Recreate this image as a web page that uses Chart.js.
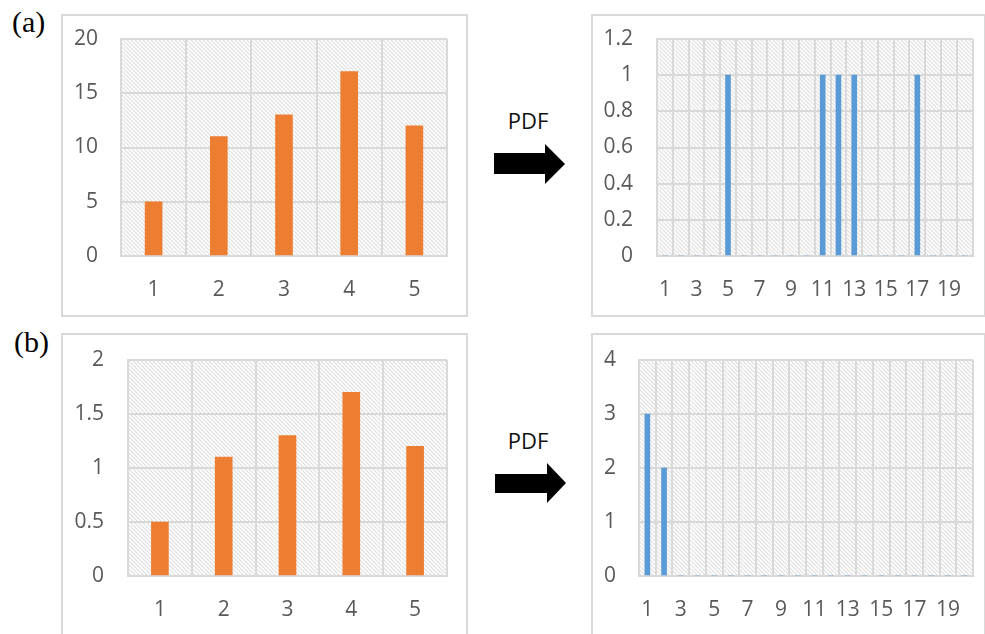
<!DOCTYPE html>
<html>
<head>
<meta charset="utf-8">
<script src="https://cdn.jsdelivr.net/npm/chart.js@4/dist/chart.umd.min.js"></script>
<style>
html,body{margin:0;padding:0;background:#fff;width:985px;height:634px;overflow:hidden;position:relative}
canvas{position:absolute}
svg{position:absolute;left:0;top:0}
</style>
</head>
<body>
<svg width="985" height="634">
<text x="12" y="32" font-family="Liberation Serif" font-size="30" fill="#000">(a)</text>
<text x="14" y="352" font-family="Liberation Serif" font-size="30" fill="#000">(b)</text>
<text x="528" y="129" text-anchor="middle" font-family="Open Sans" font-size="22" fill="#111">PDF</text>
<text x="528" y="449" text-anchor="middle" font-family="Open Sans" font-size="22" fill="#111">PDF</text>
<polygon points="494,153 545,153 545,144 565,164 545,184 545,174 494,174" fill="#000"/>
<polygon points="495,474 547,474 547,463 566,483 547,503 547,493 495,493" fill="#000"/>
</svg>
<canvas id="ca" width="407" height="303" style="left:61px;top:14px"></canvas>
<canvas id="cap" width="395" height="303" style="left:591px;top:14px"></canvas>
<canvas id="cb" width="407" height="303" style="left:61px;top:333px"></canvas>
<canvas id="cbp" width="395" height="303" style="left:591px;top:333px"></canvas>
<script>
const smallCats = ["1","2","3","4","5"]
const aValues = [5,11,13,17,12]
const bValues = [0.5,1.1,1.3,1.7,1.2]

const pdfCats = ["1","2","3","4","5","6","7","8","9","10","11","12","13","14","15","16","17","18","19","20"]
const aPdf = [0,0,0,0,1,0,0,0,0,0,1,1,1,0,0,0,1,0,0,0]
const bPdf = [3,2,0,0,0,0,0,0,0,0,0,0,0,0,0,0,0,0,0,0]

const aTicks = [0,5,10,15,20]
const aPdfTicks = [0,0.2,0.4,0.6,0.8,1,1.2]
const bTicks = [0,0.5,1,1.5,2]
const bPdfTicks = [0,1,2,3,4]

const gridColor = "#d9d9d9"
const textColor = "#595959"

function hatch(){
const s = 4
const c = document.createElement("canvas")
c.width = s
c.height = s
const x = c.getContext("2d")
x.strokeStyle = "#dcdcdc"
x.lineWidth = 1.1
for(let k=-1;k<=1;k++){
x.beginPath()
x.moveTo(k*s,0)
x.lineTo(k*s+s,s)
x.stroke()
}
return x.createPattern(c,"repeat")
}

const bgPlugin = {
id:"bg",
beforeDraw(chart){
const ctx = chart.ctx
const a = chart.chartArea
ctx.save()
ctx.strokeStyle = gridColor
ctx.lineWidth = 2
ctx.strokeRect(1,1,chart.width-2,chart.height-2)
ctx.fillStyle = hatch()
ctx.fillRect(a.left,a.top,a.right-a.left,a.bottom-a.top)
ctx.restore()
}
}

function makeChart(id,cats,values,ticks,color,barW,box,oddOnly){
new Chart(document.getElementById(id),{
type:"bar",
data:{
labels:cats,
datasets:[{
data:values,
backgroundColor:color,
barThickness:barW
}]
},
options:{
responsive:false,
animation:false,
devicePixelRatio:1,
layout:{padding:{top:box.top,right:box.right,left:0,bottom:0}},
plugins:{legend:{display:false},tooltip:{enabled:false}},
scales:{
x:{
grid:{color:gridColor,lineWidth:2,drawTicks:false,offset:true},
border:{color:gridColor,width:2},
ticks:{
color:textColor,
font:{family:"Open Sans",size:21},
padding:box.xPad,
autoSkip:false,
maxRotation:0,
callback:(v,i)=> oddOnly ? (i%2===0 ? cats[i] : "") : cats[i]
},
afterFit(s){s.height = box.xH}
},
y:{
min:ticks[0],
max:ticks[ticks.length-1],
grid:{color:gridColor,lineWidth:2,drawTicks:false},
border:{color:gridColor,width:2},
ticks:{
color:textColor,
font:{family:"Open Sans",size:21},
padding:box.yPad,
callback:v=>String(+v.toFixed(2))
},
afterBuildTicks(s){s.ticks = ticks.map(v=>({value:v}))},
// fixed axis width, and no extra label padding above/below the plot
afterFit(s){
s.width = box.yW
s.paddingTop = 0
s.paddingBottom = 0
}
}
}
},
plugins:[bgPlugin]
})
}

makeChart("ca",smallCats,aValues,aTicks,"#ed7d31",17,{top:25,right:21,yW:60,xH:61,yPad:23,xPad:21},false)
makeChart("cap",pdfCats,aPdf,aPdfTicks,"#5b9bd5",5,{top:25,right:13,yW:66,xH:61,yPad:24,xPad:21},true)
makeChart("cb",smallCats,bValues,bTicks,"#ed7d31",17,{top:27,right:21,yW:67,xH:60,yPad:24,xPad:21},false)
makeChart("cbp",pdfCats,bPdf,bPdfTicks,"#5b9bd5",5,{top:27,right:12,yW:48,xH:60,yPad:23,xPad:21},true)
</script>
</body>
</html>
